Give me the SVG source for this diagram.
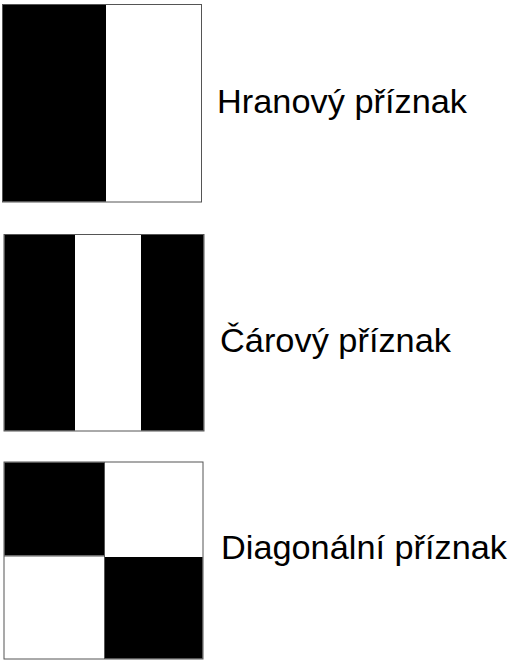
<svg xmlns="http://www.w3.org/2000/svg" width="512" height="665" viewBox="0 0 512 665">
<style>
.frame{fill:#fff;stroke:#555;stroke-width:1}
.blk{fill:#000}
.lbl{font-family:"Liberation Sans",Arial,sans-serif;font-size:33px;fill:#000}
</style>
<rect width="512" height="665" fill="#fff"/>
<g id="edge-feature">
<rect class="frame" x="2.5" y="4.5" width="199" height="197.5"/>
<rect class="blk" x="3" y="5" width="103" height="196.5"/>
<text class="lbl" x="217" y="112.5" textLength="250" lengthAdjust="spacingAndGlyphs">Hranový příznak</text>
</g>
<g id="line-feature">
<rect class="frame" x="4" y="234.5" width="200" height="196.5"/>
<rect class="blk" x="4.5" y="235" width="70.5" height="195.5"/>
<rect class="blk" x="141" y="235" width="62.5" height="195.5"/>
<text class="lbl" x="220" y="351.5" textLength="231" lengthAdjust="spacingAndGlyphs">Čárový příznak</text>
</g>
<g id="diagonal-feature">
<rect class="frame" x="4" y="462" width="199" height="197"/>
<rect class="blk" x="4.5" y="462.5" width="99.5" height="93"/>
<rect class="blk" x="105" y="557" width="97.5" height="101.5"/>
<line x1="4" y1="556" x2="104" y2="556" stroke="#555" stroke-width="1"/>
<line x1="104.5" y1="462" x2="104.5" y2="659" stroke="#555" stroke-width="1"/>
<text class="lbl" x="221" y="559" textLength="286" lengthAdjust="spacingAndGlyphs">Diagonální příznak</text>
</g>
<g id="connectors"/>
</svg>
